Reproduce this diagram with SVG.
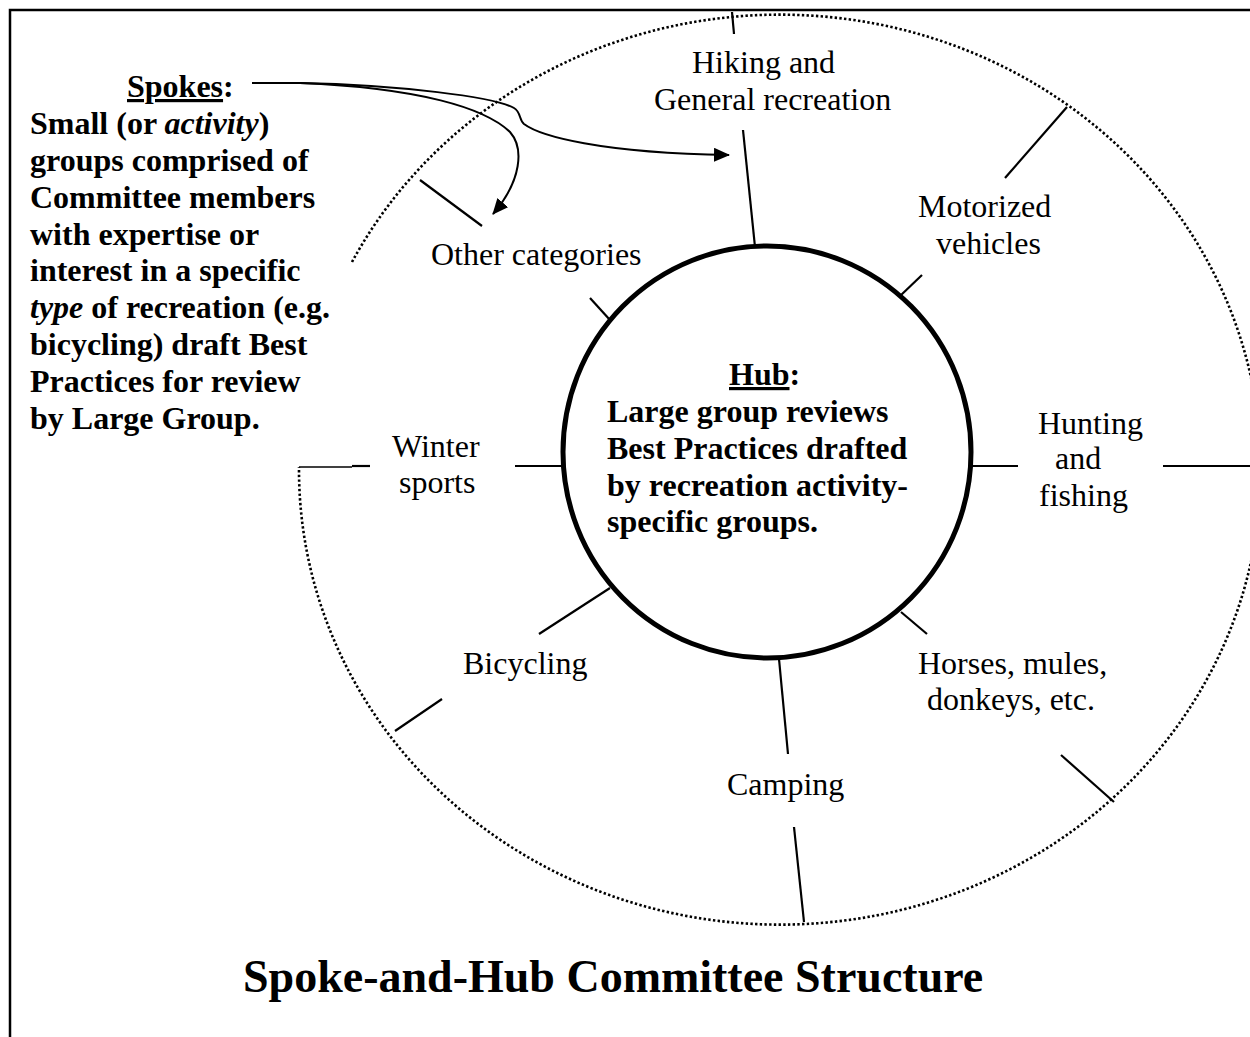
<svg xmlns="http://www.w3.org/2000/svg" width="1250" height="1037" viewBox="0 0 1250 1037">
<style>
  .lbl { font-family: "Liberation Serif", "Times New Roman", serif; font-size: 32px; fill: #000; }
  .bold { font-weight: bold; }
  .title { font-family: "Liberation Serif", "Times New Roman", serif; font-size: 46px; font-weight: bold; fill: #000; }
  .spoke { stroke: #000; stroke-width: 2.2; fill: none; }
  .thin { stroke: #000; stroke-width: 1.5; fill: none; }
  .arrow { stroke: #000; stroke-width: 2; fill: none; marker-end: url(#ah); }
</style>
<defs>
  <marker id="ah" markerUnits="userSpaceOnUse" markerWidth="18" markerHeight="16" refX="15" refY="7" orient="auto">
    <path d="M0,0 L16,7 L0,14 Z" fill="#000"/>
  </marker>
</defs>
<rect width="1250" height="1037" fill="#fff"/>
<g id="frame">
  <rect x="10" y="10" width="1270" height="1060" fill="none" stroke="#000" stroke-width="2.5"/>
</g>
<g id="outer-ring">
  <path d="M 352 262 A 481 455 0 1 1 299 467" fill="none" stroke="#000" stroke-width="2.6" stroke-dasharray="2.4 2.3"/>
</g>
<g id="hub">
  <ellipse cx="767" cy="452" rx="204" ry="206" fill="#fff" stroke="#000" stroke-width="5"/>
  <text class="lbl bold" x="729" y="385"><tspan style="text-decoration:underline">Hub</tspan>:</text>
  <text class="lbl bold" x="607" y="422">Large group reviews</text>
  <text class="lbl bold" x="607" y="459">Best Practices drafted</text>
  <text class="lbl bold" x="607" y="496">by recreation activity-</text>
  <text class="lbl bold" x="607" y="532">specific groups.</text>
</g>
<g id="spokes-note">
  <text class="lbl bold" x="127" y="97"><tspan style="text-decoration:underline">Spokes</tspan>:</text>
  <text class="lbl bold" x="30" y="134">Small (or <tspan font-style="italic">activity</tspan>)</text>
  <text class="lbl bold" x="30" y="171">groups comprised of</text>
  <text class="lbl bold" x="30" y="208">Committee members</text>
  <text class="lbl bold" x="30" y="245">with expertise or</text>
  <text class="lbl bold" x="30" y="281">interest in a specific</text>
  <text class="lbl bold" x="30" y="318"><tspan font-style="italic">type</tspan> of recreation (e.g.</text>
  <text class="lbl bold" x="30" y="355">bicycling) draft Best</text>
  <text class="lbl bold" x="30" y="392">Practices for review</text>
  <text class="lbl bold" x="30" y="429">by Large Group.</text>
</g>
<g id="hiking">
  <text class="lbl" x="692" y="73">Hiking and</text>
  <text class="lbl" x="654" y="110">General recreation</text>
</g>
<g id="motorized">
  <text class="lbl" x="918" y="217">Motorized</text>
  <text class="lbl" x="936" y="254">vehicles</text>
</g>
<g id="hunting">
  <text class="lbl" x="1038" y="434">Hunting</text>
  <text class="lbl" x="1055" y="469">and</text>
  <text class="lbl" x="1039" y="506">fishing</text>
</g>
<g id="horses">
  <text class="lbl" x="918" y="674">Horses, mules,</text>
  <text class="lbl" x="927" y="710">donkeys, etc.</text>
</g>
<g id="camping">
  <text class="lbl" x="727" y="795">Camping</text>
</g>
<g id="bicycling">
  <text class="lbl" x="463" y="674">Bicycling</text>
</g>
<g id="winter">
  <text class="lbl" x="392" y="457">Winter</text>
  <text class="lbl" x="399" y="493">sports</text>
</g>
<g id="other">
  <text class="lbl" x="431" y="265">Other categories</text>
</g>
<g id="connectors">
  <line class="spoke" x1="732" y1="12" x2="734" y2="34"/>
  <line class="spoke" x1="743" y1="130" x2="755" y2="247"/>
  <line class="spoke" x1="1067" y1="107" x2="1005" y2="178"/>
  <line class="spoke" x1="922" y1="275" x2="900" y2="296"/>
  <line class="spoke" x1="972" y1="466" x2="1018" y2="466"/>
  <line class="spoke" x1="1163" y1="466" x2="1250" y2="466"/>
  <line class="spoke" x1="901" y1="612" x2="927" y2="634"/>
  <line class="spoke" x1="1061" y1="755" x2="1114" y2="802"/>
  <line class="spoke" x1="779" y1="659" x2="788" y2="754"/>
  <line class="spoke" x1="794" y1="827" x2="804" y2="922"/>
  <line class="spoke" x1="610" y1="588" x2="539" y2="634"/>
  <line class="spoke" x1="442" y1="699" x2="395" y2="731"/>
  <line class="spoke" x1="515" y1="466" x2="563" y2="466"/>
  <line class="spoke" x1="352" y1="466" x2="370" y2="466"/>
  <line class="thin" x1="299" y1="467" x2="352" y2="467"/>
  <line class="spoke" x1="420" y1="180" x2="482" y2="226"/>
  <line class="spoke" x1="590" y1="298" x2="610" y2="320"/>
  <path class="arrow" d="M 252 83 L 300 83 C 400 85, 495 97, 514 108 C 521 112, 519 120, 524 124 C 540 136, 600 153, 729 155"/>
  <path class="arrow" d="M 300 83 C 420 88, 485 108, 510 132 C 524 148, 522 180, 493 214"/>
</g>
<g id="caption">
  <text class="title" x="243" y="992">Spoke-and-Hub Committee Structure</text>
</g>
</svg>
